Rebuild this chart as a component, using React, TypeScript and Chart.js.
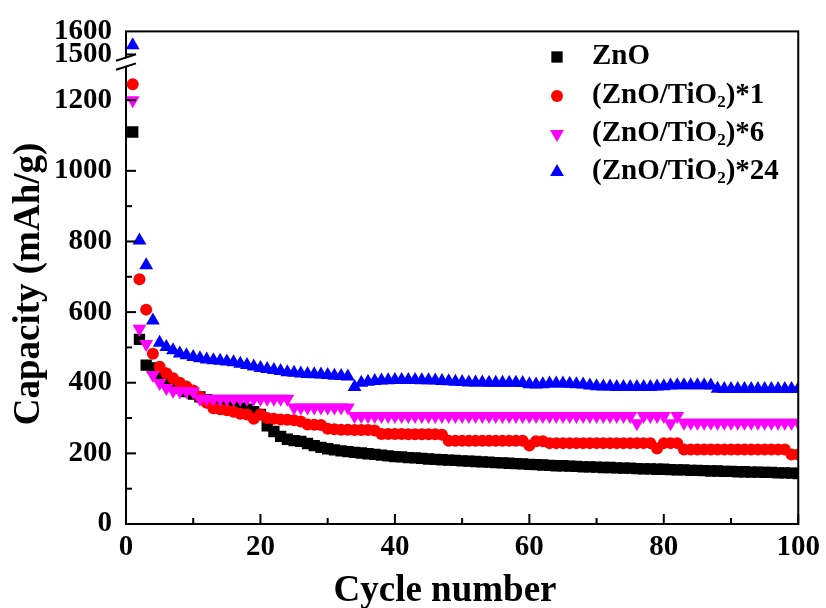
import React, { useEffect, useRef } from "react";
import { Chart, registerables } from "chart.js";

Chart.register(...registerables);

// ---------- data ----------
const cycles = [
  1, 2, 3, 4, 5, 6, 7, 8, 9, 10, 11, 12, 13, 14, 15, 16, 17, 18, 19, 20,
  21, 22, 23, 24, 25, 26, 27, 28, 29, 30, 31, 32, 33, 34, 35, 36, 37, 38, 39, 40,
  41, 42, 43, 44, 45, 46, 47, 48, 49, 50, 51, 52, 53, 54, 55, 56, 57, 58, 59, 60,
  61, 62, 63, 64, 65, 66, 67, 68, 69, 70, 71, 72, 73, 74, 75, 76, 77, 78, 79, 80,
  81, 82, 83, 84, 85, 86, 87, 88, 89, 90, 91, 92, 93, 94, 95, 96, 97, 98, 99, 100,
];

const zno = [
  1110, 523, 450, 442, 420, 405, 395, 385, 375, 368,
  360, 352, 346, 340, 336, 332, 329, 325, 318, 310,
  278, 262, 248, 240, 236, 234, 228, 222, 217, 213,
  210, 207, 205, 203, 201, 199, 197, 195, 193, 191,
  190, 188, 187, 186, 184, 183, 182, 181, 180, 179,
  178, 177, 176, 175, 174, 173, 172, 171, 170, 169,
  168, 167, 166, 165, 165, 164, 163, 162, 162, 161,
  160, 160, 159, 158, 158, 157, 156, 156, 155, 155,
  154, 153, 153, 152, 152, 151, 150, 150, 149, 149,
  148, 148, 147, 147, 146, 146, 145, 145, 144, 143,
];

const znoTio2x1 = [
  1245, 693, 607, 482, 445, 427, 413, 400, 389, 378,
  360, 343, 328, 325, 322, 318, 312, 310, 298, 310,
  300, 298, 296, 295, 294, 290, 282, 281, 280, 270,
  268, 267, 267, 266, 266, 266, 265, 255, 255, 255,
  255, 254, 254, 254, 254, 254, 253, 236, 236, 236,
  236, 236, 236, 236, 236, 236, 236, 236, 236, 222,
  234, 234, 229, 229, 229, 229, 229, 229, 229, 229,
  229, 229, 229, 229, 229, 229, 229, 229, 214, 229,
  229, 229, 211, 211, 211, 211, 211, 211, 211, 211,
  211, 211, 211, 211, 211, 211, 211, 211, 197, 197,
];

const znoTio2x6 = [
  1200, 553, 510, 422, 399, 385, 377, 376, 376, 375,
  355, 355, 355, 355, 355, 355, 355, 355, 355, 355,
  355, 355, 355, 355, 330, 330, 330, 330, 330, 330,
  330, 330, 330, 306, 306, 306, 306, 306, 306, 306,
  306, 306, 306, 306, 306, 306, 306, 306, 306, 306,
  306, 306, 306, 306, 306, 306, 306, 306, 306, 306,
  306, 306, 306, 306, 306, 306, 306, 306, 306, 306,
  306, 306, 306, 306, 306, 285, 306, 306, 306, 306,
  285, 306, 287, 287, 287, 287, 287, 287, 287, 287,
  287, 287, 287, 287, 287, 287, 287, 287, 287, 287,
];

const znoTio2x24 = [
  1540, 803, 733, 576, 513, 501, 492, 483, 478, 473,
  469, 466, 464, 462, 460, 458, 454, 450, 446, 442,
  439, 436, 433, 430, 428, 426, 425, 424, 423, 422,
  420, 419, 418, 388, 400, 403, 405, 406, 407, 408,
  408, 408, 408, 407, 407, 406, 405, 404, 403, 402,
  401, 401, 401, 400, 400, 400, 400, 400, 399, 396,
  395, 396, 398, 398, 398, 397, 396, 395, 392, 390,
  389, 389, 388, 388, 388, 388, 388, 388, 389, 390,
  392, 393, 393, 393, 393, 393, 392, 383, 382, 382,
  382, 382, 382, 382, 382, 382, 382, 382, 382, 382,
];

// legend labels split as [before subscript, subscript, after subscript]
const seriesLabelParts = [
  ["ZnO", "", ""],
  ["(ZnO/TiO", "2", ")*1"],
  ["(ZnO/TiO", "2", ")*6"],
  ["(ZnO/TiO", "2", ")*24"],
];
const seriesColors = ["#000000", "#FF0000", "#FF00FF", "#0000FF"];
const seriesShapes = ["rect", "circle", "triangleDown", "triangle"];

const xTicks = [0, 20, 40, 60, 80, 100];
const xMinorTicks = [10, 30, 50, 70, 90];
const yLowerTicks = [0, 200, 400, 600, 800, 1000, 1200];
const yLowerMinorTicks = [100, 300, 500, 700, 900, 1100, 1300];
const yUpperTicks = [1500, 1600];

const X_MIN = 0;
const X_MAX = 100;
const Y_LOW_MIN = 0;
const Y_LOW_MAX = 1308;
const Y_HIGH_MIN = 1467;
const Y_HIGH_MAX = 1600;

const FONT = "'Times New Roman', 'Liberation Serif', serif";

// ---------- helpers ----------
function markerOptions(shape: string) {
  if (shape === "rect") return { pointStyle: "rect", pointRadius: 8, pointRotation: 0 };
  if (shape === "circle") return { pointStyle: "circle", pointRadius: 6, pointRotation: 0 };
  if (shape === "triangleDown") return { pointStyle: "triangle", pointRadius: 8, pointRotation: 180 };
  return { pointStyle: "triangle", pointRadius: 8, pointRotation: 0 };
}

function drawMarker(ctx: CanvasRenderingContext2D, shape: string, x: number, y: number, color: string) {
  ctx.save();
  ctx.fillStyle = color;
  ctx.beginPath();
  if (shape === "rect") {
    const s = 8 * Math.SQRT1_2;
    ctx.rect(x - s, y - s, 2 * s, 2 * s);
  } else if (shape === "circle") {
    ctx.arc(x, y, 6, 0, Math.PI * 2);
  } else if (shape === "triangle") {
    const r = 8;
    ctx.moveTo(x, y - r);
    ctx.lineTo(x + r * 0.866, y + r / 2);
    ctx.lineTo(x - r * 0.866, y + r / 2);
    ctx.closePath();
  } else {
    const r = 8;
    ctx.moveTo(x, y + r);
    ctx.lineTo(x + r * 0.866, y - r / 2);
    ctx.lineTo(x - r * 0.866, y - r / 2);
    ctx.closePath();
  }
  ctx.fill();
  ctx.restore();
}

const allSeries = [zno, znoTio2x1, znoTio2x6, znoTio2x24];

function buildDatasets() {
  const datasets: any[] = [];
  allSeries.forEach((values, si) => {
    const label = seriesLabelParts[si].join("");
    const low = cycles.map((c, i) => ({ x: c, y: values[i] <= Y_LOW_MAX ? values[i] : null }));
    const high = cycles.map((c, i) => ({ x: c, y: values[i] >= Y_HIGH_MIN ? values[i] : null }));
    const common = {
      showLine: false,
      backgroundColor: seriesColors[si],
      borderColor: seriesColors[si],
      borderWidth: 0,
      pointBorderWidth: 0,
      pointHoverRadius: 0,
      order: 4 - si,
      ...markerOptions(seriesShapes[si]),
    };
    datasets.push({ label, data: low, yAxisID: "y", ...common });
    if (high.some((p) => p.y !== null)) {
      datasets.push({ label: label + " (upper)", data: high, yAxisID: "y2", ...common });
    }
  });
  return datasets;
}

const LEGEND_FONT_SIZE = 29;

const decorPlugin = {
  id: "decor",
  afterDraw(chart: any) {
    const { ctx, chartArea, scales } = chart;
    const { left, right, top, bottom } = chartArea;
    const xs = scales.x;
    const ys = scales.y;
    const ys2 = scales.y2;
    ctx.save();
    ctx.strokeStyle = "#000";
    ctx.lineWidth = 2;
    ctx.strokeRect(left, top, right - left, bottom - top);
    const line = (x1: number, y1: number, x2: number, y2: number) => {
      ctx.beginPath();
      ctx.moveTo(x1, y1);
      ctx.lineTo(x2, y2);
      ctx.stroke();
    };
    xTicks.forEach((v) => {
      const px = xs.getPixelForValue(v);
      line(px, bottom, px, bottom - 10);
    });
    xMinorTicks.forEach((v) => {
      const px = xs.getPixelForValue(v);
      line(px, bottom, px, bottom - 6);
    });
    yLowerTicks.forEach((v) => {
      const py = ys.getPixelForValue(v);
      line(left, py, left + 10, py);
    });
    yLowerMinorTicks.forEach((v) => {
      if (v > Y_LOW_MAX) return;
      const py = ys.getPixelForValue(v);
      line(left, py, left + 6, py);
    });
    yUpperTicks.forEach((v) => {
      if (v >= Y_HIGH_MAX) return;
      const py = ys2.getPixelForValue(v);
      line(left, py, left + 10, py);
    });
    // axis break marks
    const by = ys.top;
    const dx = 10;
    const slope = 0.32;
    const gap = 4.5;
    ctx.fillStyle = "#fff";
    ctx.beginPath();
    ctx.moveTo(left - dx, by + slope * dx - gap);
    ctx.lineTo(left + dx, by - slope * dx - gap);
    ctx.lineTo(left + dx, by - slope * dx + gap);
    ctx.lineTo(left - dx, by + slope * dx + gap);
    ctx.closePath();
    ctx.fill();
    ctx.lineWidth = 2;
    line(left - dx, by + slope * dx - gap, left + dx, by - slope * dx - gap);
    line(left - dx, by + slope * dx + gap, left + dx, by - slope * dx + gap);

    // legend
    const legendX = 557;
    const textX = 592;
    const rowY = [57, 96, 134, 172];
    ctx.textAlign = "left";
    ctx.textBaseline = "middle";
    seriesLabelParts.forEach((parts, i) => {
      drawMarker(ctx, seriesShapes[i], legendX, rowY[i], seriesColors[i]);
      ctx.fillStyle = "#000";
      let x = textX;
      const big = "bold " + LEGEND_FONT_SIZE + "px " + FONT;
      const small = "bold " + Math.round(LEGEND_FONT_SIZE * 0.58) + "px " + FONT;
      ctx.font = big;
      ctx.fillText(parts[0], x, rowY[i]);
      x += ctx.measureText(parts[0]).width;
      if (parts[1]) {
        ctx.font = small;
        ctx.fillText(parts[1], x, rowY[i] + LEGEND_FONT_SIZE * 0.22);
        x += ctx.measureText(parts[1]).width;
      }
      if (parts[2]) {
        ctx.font = big;
        ctx.fillText(parts[2], x, rowY[i]);
      }
    });

    // axis titles
    ctx.fillStyle = "#000";
    ctx.font = "bold 37px " + FONT;
    ctx.textAlign = "center";
    ctx.textBaseline = "middle";
    ctx.fillText("Cycle number", 445, 591);
    ctx.save();
    ctx.translate(29, 284);
    ctx.rotate(-Math.PI / 2);
    ctx.fillText("Capacity (mAh/g)", 0, 0);
    ctx.restore();
    ctx.restore();
  },
};

export default function App() {
  const canvasRef = useRef<HTMLCanvasElement | null>(null);

  useEffect(() => {
    if (!canvasRef.current) return;
    const tickFont = { family: FONT, size: 29, weight: "bold" as const };
    const plain = (v: any) => String(v);
    const chart = new Chart(canvasRef.current, {
      type: "scatter",
      data: { datasets: buildDatasets() },
      options: {
        animation: false,
        responsive: false,
        maintainAspectRatio: false,
        events: [],
        layout: { padding: { top: 26, right: 26, bottom: 0, left: 0 } },
        plugins: {
          legend: { display: false },
          tooltip: { enabled: false },
        },
        scales: {
          x: {
            type: "linear",
            min: X_MIN,
            max: X_MAX,
            grid: { display: false, drawTicks: false, tickLength: 0 },
            border: { display: false },
            ticks: { font: tickFont, color: "#000", padding: 6, autoSkip: false, maxRotation: 0, callback: plain },
            afterBuildTicks: (s: any) => {
              s.ticks = xTicks.map((v) => ({ value: v }));
            },
            afterFit: (s: any) => {
              s.height = 84;
            },
          },
          y: {
            type: "linear",
            position: "left",
            stack: "left",
            stackWeight: 467,
            weight: 0,
            min: Y_LOW_MIN,
            max: Y_LOW_MAX,
            grid: { display: false, drawTicks: false, tickLength: 0 },
            border: { display: false },
            ticks: { font: tickFont, color: "#000", padding: 14, autoSkip: false, callback: plain },
            afterBuildTicks: (s: any) => {
              s.ticks = yLowerTicks.map((v) => ({ value: v }));
            },
            afterFit: (s: any) => {
              s.width = 126;
            },
          },
          y2: {
            type: "linear",
            position: "left",
            stack: "left",
            stackWeight: 31,
            weight: 1,
            offset: false,
            min: Y_HIGH_MIN,
            max: Y_HIGH_MAX,
            grid: { display: false, drawTicks: false, tickLength: 0 },
            border: { display: false },
            ticks: { font: tickFont, color: "#000", padding: 14, autoSkip: false, callback: plain },
            afterBuildTicks: (s: any) => {
              s.ticks = yUpperTicks.map((v) => ({ value: v }));
            },
            afterFit: (s: any) => {
              s.width = 126;
            },
          },
        },
      },
      plugins: [decorPlugin],
    } as any);
    return () => chart.destroy();
  }, []);

  return (
    <div style={{ position: "absolute", left: 0, top: 0, width: 826, height: 608, background: "#fff" }}>
      <canvas ref={canvasRef} width={826} height={608} style={{ width: 826, height: 608, display: "block" }} />
    </div>
  );
}
